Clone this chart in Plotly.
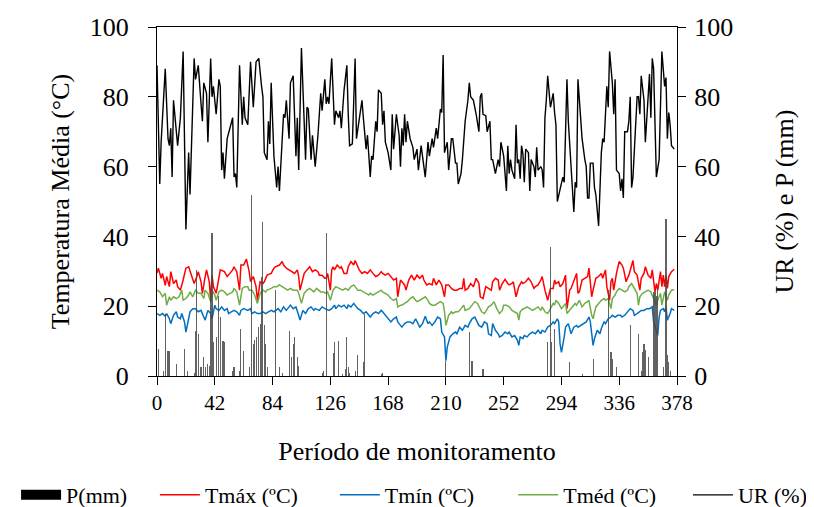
import plotly.graph_objects as go

# ---------------- data ----------------
ur_points = [(0,89),(2,55),(3,67),(6,88),(8,68),(9,66),(10,71),(11,57),(12,79),(15,66),(17,74),(18,82),(19,93),(21,42),(23,64),(24,52),(27,91),(28,85),(30,89),(32,78),(33,73),(34,84),(36,81),(37,67),(39,91),(40,80),(41,83),(43,75),(45,85),(46,83),(47,59),(48,64),(49,56.5),(51,68),(54,73),(55,74),(56,57),(57,58),(58,54),(60,89),(62,72),(63,80),(64,74),(66,72),(68,90),(70,77),(72,90),(74,91),(76,83),(77,80),(78,64),(80,62),(81,73),(82,66.5),(83,84),(85,63),(87,54),(88,60),(89,53),(92,75),(93,74),(94,79),(96,68),(97,84),(99,86),(101,63),(102,74),(103,59),(105,94),(108,62),(109,77),(110,76.5),(112,62),(113,69),(115,60),(117,69),(119,81),(120,76),(122,85),(123,78),(124,80),(125,78),(127,91),
             (128,81),(129,72),(130,76),(132,74),(133,76),(134,71),(136,82),(138,89),(139,75),(140,66),(142,66.5),(144,91),(145,68),(147,73),(149,79),(150,74),(152,65),(153,69),(155,57),(156,63),(157,62),(159,73),(160,70),(161,82),(163,81),(164,72),(165,76),(166,67),(168,64),(170,59),(171,75),(172,65),(174,75),(176,69),(177,60),(178,71),(179,66),(180,75),(181,67),(182,73),(184,68),(186,65.5),(187,62),(189,65),(190,59),(192,66),(193,63),(195,57),(197,67),(198,63),(200,68),(201,65.5),(203,71),(204,68),(206,76.5),(207,75.5),(208,92),(209,64),(211,67),(212,59),(214,68),(215,68),(217,61),(218,61),(219,55),(221,58),(222,62),(224,73),(226,79),(227,84),(228,80),(230,79),(232,75),(234,70),(235,80),(236,81),(237,75),(239,74.6),(240,70),(242,73),(243,62),(244,62),(246,58),(248,62),(249,60),(250,67),(252,63),
             (254,53),(255,66),(256,58),(257,62),(258,59),(260,56.5),(261,72),(262,61),(263,62),(264,56.5),(265,66),(266,63.6),(267,55.5),(268,65),(270,64),(271,53),(272,62),(274,60),(275,57),(276,65.5),(277,59),(279,60),(280,59),(281,54),(282,74),(283,79),(284,86),(286,77),(288,81),(289,75.5),(290,72),(291,50),(293,54),(294,55),(295,57),(296,55.5),(298,85),(299,73),(301,60),(303,47),(304,55.5),(305,54),(306,85),(308,72),(309,68),(311,62),(312,60),(313,51),(314,51),(315,61),(317,61),(318,54),(319,52),(321,43),(322,53),(323,64),(324,68),(325,67),(327,83),(328,77),(329,93),(331,84),(332,75),(333,85),(334,59),(336,58),(337,53),(338,56.5),(339,51),(340,70),(342,70),(343,73),(344,80),(345,54),(346,57),(347,65.5),(349,80),(350,80),(351,75),(352,86),(354,79),(355,67),(357,80),(358,86.5),(359,74),(360,91),(361,88),(362,74),(363,57),(365,62),(366,80),(367,93),(369,83),(370,85.5),(371,68),(372,75.5),(373,72),(374,66),(376,65)]

tmax_points = [(0,29.5),(1,30.9),(3,28),(4,29.4),(6,26),(7,28.5),(9,25.6),(10,29.9),(12,26.5),(14,27.5),(15,25.6),(17,24.6),(19,27.5),(21,30.9),(23,31.3),(25,28.9),(27,26.5),(29,28.5),(30,29.9),(32,27),(33,23.7),(35,28.5),(36,30.4),(38,27),(39,21.7),(40,28.9),(41,25.6),(43,23.7),(45,28.9),(46,30.4),(49,29.9),(51,28.5),(53,29.4),(55,30.4),(56,31.3),(58,29.9),(60,24.6),(61,31.8),(63,31.8),(65,33.5),(67,29.9),(68,27),(70,28.5),(72,25.6),(73,21.7),(75,27),(77,26.5),(78,27),(80,28.9),(83,29.4),(85,30.9),(86,31.3),(89,31.8),(91,32.8),(92,31.8),(94,30.9),(96,30.4),(98,29.9),(100,29.4),(102,30.4),(103,28.5),(104,24.6),(106,27.5),(107,29.4),(109,30.4),(111,31.3),(113,29.9),(115,30.4),(117,29.9),(118,28.9),(120,28.9),(122,28),(123,28),(124,29.4),(126,24.6),(127,30.4),
               (128,31.3),(129,30.4),(131,31.8),(133,30.9),(134,31.3),(136,29.4),(138,29.4),(139,31.3),(141,32.8),(143,31.8),(144,33.1),(146,30.9),(147,30.4),(149,29.4),(151,29.9),(153,29.4),(155,30.4),(157,29.4),(159,28.5),(161,28.9),(163,29.9),(164,29.4),(166,28.9),(168,29.4),(170,28.5),(172,27.5),(174,28),(175,22.7),(177,27.5),(178,27),(180,26.1),(181,24.6),(183,27.5),(185,28.9),(187,27.5),(189,28.9),(191,28),(193,28.9),(194,27.5),(196,26.1),(198,26.5),(200,26.1),(201,28),(203,26.1),(205,27.5),(207,26.1),(209,22.7),(210,26.1),(212,26.1),(214,25.1),(216,24.6),(218,24.6),(220,25.1),(222,25.1),(223,28),(224,24.6),(226,25.1),(228,26.5),(230,25.6),(232,28),(234,26.5),(235,22.7),(237,22.2),(239,25.6),(241,25.1),(243,24.6),(244,27),(246,28),(248,27.5),(249,24.6),(251,26.5),(253,27.7),(255,26.5),
               (256,26.1),(258,26.5),(259,27),(261,22.7),(263,25.6),(265,27),(266,26.5),(268,27),(270,28),(272,27),(274,25.1),(275,25.6),(277,26.1),(279,27.5),(280,28.5),(282,24.6),(284,21.7),(286,25.1),(288,25.1),(289,27.5),(290,26.5),(292,27),(293,25.6),(295,26.5),(297,28.9),(298,19.3),(300,24.6),(301,25.1),(303,27.5),(305,29.4),(306,23.7),(307,24.1),(309,27.5),(311,28),(313,28.5),(314,30.9),(316,22.7),(317,24.6),(319,28),(321,28.5),(323,29.4),(324,28),(326,30.4),(327,25.6),(329,21.7),(330,27),(331,28),(332,24.6),(334,29.4),(336,32.8),(338,31.8),(339,30.9),(341,27),(343,28.9),(345,31.3),(346,33.1),(347,29.9),(349,28.9),(351,24.6),(352,28),(354,29.4),(355,31.3),(357,28.9),(359,28),(360,30.4),(362,24.1),(363,26.5),(364,24.6),(366,29.9),(367,25.6),(368,28.9),(369,25.6),(370,28.9),(371,25.1),(372,28.5),(374,29.9),(376,30.6)]

tmed_points = [(0,24.6),(2,24.1),(4,22.7),(6,23.7),(7,20.3),(9,22.7),(10,21.7),(12,22.7),(14,22.2),(16,22.7),(18,24.6),(19,21.7),(21,22.2),(23,23.2),(24,24.1),(26,22.7),(28,24.6),(30,23.7),(32,23.7),(34,22.2),(35,24.6),(37,23.7),(39,21.3),(40,24.6),(42,23.2),(43,21.7),(45,24.1),(47,24.6),(49,24.1),(51,23.2),(53,23.7),(55,24.1),(56,25.1),(58,24.1),(60,20.3),(62,25.1),(64,25.6),(66,25.6),(67,24.6),(69,24.6),(71,23.2),(73,20.8),(75,23.7),(77,24.6),(79,24.1),(80,24.6),(83,25.1),(85,25.6),(87,25.6),(89,26.1),(91,25.6),(93,25.1),(95,24.6),(97,25.1),(99,24.6),(102,24.6),(103,23.7),(105,20.8),(107,23.7),(109,24.6),(111,25.1),(114,24.1),(116,25.1),(119,24.1),(121,24.1),(123,23.7),(124,24.1),(126,21.7),
               (128,24.6),(130,25.6),(132,25.1),(134,24.6),(135,24.6),(137,25.1),(139,24.6),(141,25.6),(143,26.1),(145,25.1),(146,24.6),(148,24.6),(150,24.1),(152,23.7),(154,23.2),(155,23.7),(157,23.2),(159,23.7),(161,24.1),(163,24.6),(164,24.1),(166,23.7),(168,23.2),(170,22.2),(172,21.7),(174,22.2),(175,19.8),(177,20.3),(178,20.3),(180,20.8),(182,21.3),(184,22.2),(186,22.7),(188,21.7),(189,21.3),(191,21.7),(193,22.2),(195,22.7),(197,21.7),(198,20.8),(200,20.3),(202,20.3),(204,20.8),(206,21.3),(208,20.8),(209,18.4),(210,14.5),(212,17.4),(214,18.4),(215,17.9),(217,18.4),(219,18.4),(221,19.3),(223,20.3),(224,18.8),(226,19.3),(227,19.3),(229,20.3),(231,21.3),(233,20.8),(235,19.3),(236,18.4),(238,17.9),(240,19.3),(241,19.8),(243,20.3),(245,21.3),(247,19.3),(249,17.9),(251,18.8),(252,20.3),(254,20.3),
               (256,19.8),(258,18.8),(260,18.4),(262,17.9),(263,16),(264,18.4),(266,19.3),(267,19.3),(269,19.8),(271,19.3),(273,18.8),(275,19.3),(277,19.8),(279,18.8),(280,19.8),(282,18.4),(284,17.9),(286,19.3),(288,20.8),(289,20.3),(290,21.7),(292,20.8),(294,19.3),(296,20.3),(297,20.8),(298,17.9),(300,18.8),(302,19.8),(304,20.8),(305,20.3),(307,21.7),(309,19.8),(311,20.8),(313,21.3),(314,21.7),(316,17.4),(317,16.4),(319,19.8),(321,20.8),(323,21.7),(325,22.2),(326,21.7),(328,22.2),(330,19.3),(331,22.2),(333,23.2),(334,24.1),(336,25.1),(338,24.6),(340,24.1),(342,24.6),(343,25.6),(345,26.5),(347,25.1),(349,23.7),(350,20.3),(351,22.7),(353,23.7),(355,24.1),(357,24.6),(359,24.1),(360,23.2),(362,21.3),(363,20.3),(364,21.7),(366,23.7),(367,20.3),(368,22.7),(369,24.1),(371,21.7),(372,23.2),(374,24.6),(376,24.8)]

tmin_points = [(0,17.9),(2,17.4),(4,17.9),(6,17.1),(7,17.9),(9,16.4),(10,15),(12,17.4),(14,18.4),(15,16.9),(17,16.4),(18,17.9),(20,15.5),(21,12.6),(23,16.4),(24,18.4),(26,19.3),(28,19.3),(30,18.4),(32,18.8),(34,16.9),(35,16),(37,18.8),(39,17.9),(40,16.4),(42,20.3),(43,19.3),(45,18.8),(47,19.8),(49,18.8),(51,19.3),(52,17.9),(54,18.4),(56,18.8),(58,18.4),(60,17.4),(61,18.8),(63,19.3),(66,18.8),(68,19.3),(69,17.9),(71,18.4),(73,17.9),(75,17.9),(77,18.4),(79,17.9),(81,18.4),(83,18.8),(85,18.4),(86,18.8),(88,19.3),(90,18.4),(92,19.8),(94,18.8),(95,19.3),(97,20.3),(99,19.3),(101,19.8),(103,17.4),(104,16),(106,18.8),(108,17.9),(110,19.3),(112,19.8),(114,18.8),(115,19.3),(118,18.8),(120,19.8),(122,19.3),(124,18.8),
               (125,18.8),(127,19.3),(129,20.3),(130,19.3),(132,20.3),(134,19.8),(136,20.3),(138,19.3),(139,20.3),(141,19.8),(143,20.8),(145,19.8),(146,19.3),(148,18.8),(150,17.9),(152,18.4),(154,17.4),(155,16.9),(157,17.9),(159,18.4),(161,17.9),(163,18.8),(164,18.4),(166,17.4),(168,16.4),(170,15.5),(172,16.4),(174,16.9),(175,15.5),(177,14.5),(178,14),(180,15),(182,15.5),(184,15.5),(186,15),(188,16.4),(189,15.5),(191,14),(193,15),(195,17.1),(197,15),(198,15.5),(200,14.5),(202,15.5),(204,16.9),(206,16.4),(207,12.6),(209,11.2),(210,4.4),(211,8.3),(213,11.2),(215,12.1),(217,12.6),(218,12.1),(220,14),(222,13.1),(224,14.5),(226,14),(227,15),(229,16.4),(231,16.9),(232,16),(234,14.5),(236,14),(238,15.5),(240,15),(241,12.1),(243,11.6),(244,15),(246,13.1),(248,12.1),(249,11.2),(251,11.6),(253,12.6),(255,12.1),
               (256,12.6),(258,11.2),(260,11.6),(262,10.2),(263,8.8),(264,11.2),(266,10.7),(267,11.6),(269,11.2),(271,12.1),(273,12.6),(275,12.1),(277,13.1),(279,12.1),(280,13.1),(282,12.6),(284,14),(286,14.5),(288,15.5),(289,15),(291,16.4),(292,15.5),(293,9.2),(294,6.8),(296,11.2),(297,14),(299,15),(301,12.1),(303,14),(305,14.5),(306,14),(308,14.5),(310,15),(312,15.5),(314,16.9),(315,15.5),(317,8.8),(318,10.7),(320,13.1),(322,12.1),(323,13.6),(325,15.5),(326,15),(328,16.4),(330,16.9),(331,17.4),(333,16.9),(335,17.4),(337,17.4),(338,16.9),(340,17.4),(342,18.4),(344,19.3),(346,18.8),(347,17.4),(349,17.9),(351,18.4),(352,18.8),(354,18.8),(356,19.3),(358,19.3),(360,19.8),(361,15.5),(363,12.6),(364,11.6),(365,16.9),(366,18.8),(368,19.3),(369,18.4),(370,19.8),(371,16),(373,17.9),(374,19.3),(376,18.8)]

p_points = [(1,7.8),(5,1.5),(6,17.9),(8,7.3),(9,7.3),(14,3.5),(20,7.8),(22,1.5),(27,1),(28,13),(29,30.4),(30,12),(32,2.5),(34,5.4),(35,2.5),(37,3.5),(38,3),(39,23.7),(40,41),(41,9.7),(43,11.2),(45,23),(46,17),(48,10),(49,9.7),(55,1.5),(56,2.5),(60,1.5),(61,13.6),(63,7.3),(67,2.5),(69,52),(70,9.2),(71,10.2),(72,11.2),(74,14),(75,15),(76,28.5),(77,44),(78,14.5),(79,9.2),(80,2.5),(86,24.6),(89,2.5),(91,1),(96,13),(98,5.4),(99,9.2),(100,11.2),(102,5.4),(103,3),(120,1),(121,1.5),(123,41),(128,6.5),(129,9.7),(132,10),(135,0.6),(137,2),(138,11.2),(139,2.5),(140,1),(144,1.5),(146,5.9),(150,3.9),(151,17.9),(163,0.6),(164,1),(210,4.4),(227,12.6),(229,4.4),(237,2),(284,9.7),(286,37),(287,9.8),(289,13.6),(300,3.9),(309,0.6),(317,4.9),(328,24.6),(330,6.8),(331,5),(334,2.5),(344,14.5),(350,12),(352,1.5),(353,7),(354,9.2),(355,7.5),(357,5.4),(361,24),(362,24),(363,23),(364,25),(368,2.5),(370,45),(371,5.9),(372,4),(373,1.5)]

x_ticks = [0, 42, 84, 126, 168, 210, 252, 294, 336, 378]
y_ticks = [0, 20, 40, 60, 80, 100]


def split(points):
    return [p[0] for p in points], [p[1] for p in points]


ur_day, ur_val = split(ur_points)
tmax_day, tmax_val = split(tmax_points)
tmed_day, tmed_val = split(tmed_points)
tmin_day, tmin_val = split(tmin_points)
p_day, p_val = split(p_points)

FONT = "Liberation Serif"

fig = go.Figure()

fig.add_trace(go.Bar(x=p_day, y=p_val, width=0.8, yaxis="y2",
                     marker=dict(color="rgba(70,70,70,0.85)", line=dict(width=0)),
                     showlegend=False, name="P(mm)"))
# legend proxy for the precipitation bars (wide black block)
fig.add_trace(go.Scatter(x=[None], y=[None], mode="lines", name="P(mm)", legend="legend",
                         line=dict(color="black", width=11)))

fig.add_trace(go.Scatter(x=tmax_day, y=tmax_val, mode="lines", name="Tmáx (ºC)", legend="legend2",
                         line=dict(color="#ff0000", width=1.5)))
fig.add_trace(go.Scatter(x=tmin_day, y=tmin_val, mode="lines", name="Tmín (ºC)", legend="legend3",
                         line=dict(color="#0070c0", width=1.5)))
fig.add_trace(go.Scatter(x=tmed_day, y=tmed_val, mode="lines", name="Tméd (ºC)", legend="legend4",
                         line=dict(color="#70ad47", width=1.5)))
fig.add_trace(go.Scatter(x=ur_day, y=ur_val, mode="lines", name="UR (%)", yaxis="y2", legend="legend5",
                         line=dict(color="black", width=1.4)))


def legend_at(xpos):
    return dict(orientation="h", x=xpos, xanchor="left", y=-0.281, yanchor="top",
                font=dict(size=22, family=FONT), bgcolor="rgba(0,0,0,0)", itemwidth=40)


# The page body has an 8 px margin, so the figure is sized and placed to compensate.
fig.update_layout(
    width=806, height=499,
    margin=dict(l=149, r=137, t=19, b=131, autoexpand=False),
    paper_bgcolor="white", plot_bgcolor="white",
    font=dict(family=FONT, color="black"),
    bargap=0,
    xaxis=dict(range=[0, 378], tickvals=x_ticks, ticktext=[str(v) for v in x_ticks],
               showline=True, linecolor="black", linewidth=1.3, mirror=True,
               ticks="outside", ticklen=8, tickcolor="black", tickwidth=1.3,
               showgrid=False, zeroline=False, automargin=False,
               tickfont=dict(size=21, family=FONT),
               title=dict(text="Período de monitoramento", font=dict(size=26, family=FONT), standoff=27)),
    yaxis=dict(range=[0, 100], tickvals=y_ticks,
               showline=True, linecolor="black", linewidth=1.3,
               ticks="outside", ticklen=8, tickcolor="black", tickwidth=1.3,
               showgrid=False, zeroline=False, automargin=False, ticklabelstandoff=14,
               tickfont=dict(size=26, family=FONT),
               title=dict(text="Temperatura Média (°C)", font=dict(size=26, family=FONT), standoff=12)),
    yaxis2=dict(range=[0, 100], tickvals=y_ticks, overlaying="y", side="right",
                showline=True, linecolor="black", linewidth=1.3,
                ticks="outside", ticklen=8, tickcolor="black", tickwidth=1.3,
                showgrid=False, zeroline=False, automargin=False, ticklabelstandoff=3,
                tickfont=dict(size=26, family=FONT),
                title=dict(text="UR (%) e P (mm)", font=dict(size=26, family=FONT), standoff=42)),
    legend=legend_at(-0.271),
    legend2=legend_at(-0.004),
    legend3=legend_at(0.342),
    legend4=legend_at(0.685),
    legend5=legend_at(1.021),
)

fig.write_html("out.html")
